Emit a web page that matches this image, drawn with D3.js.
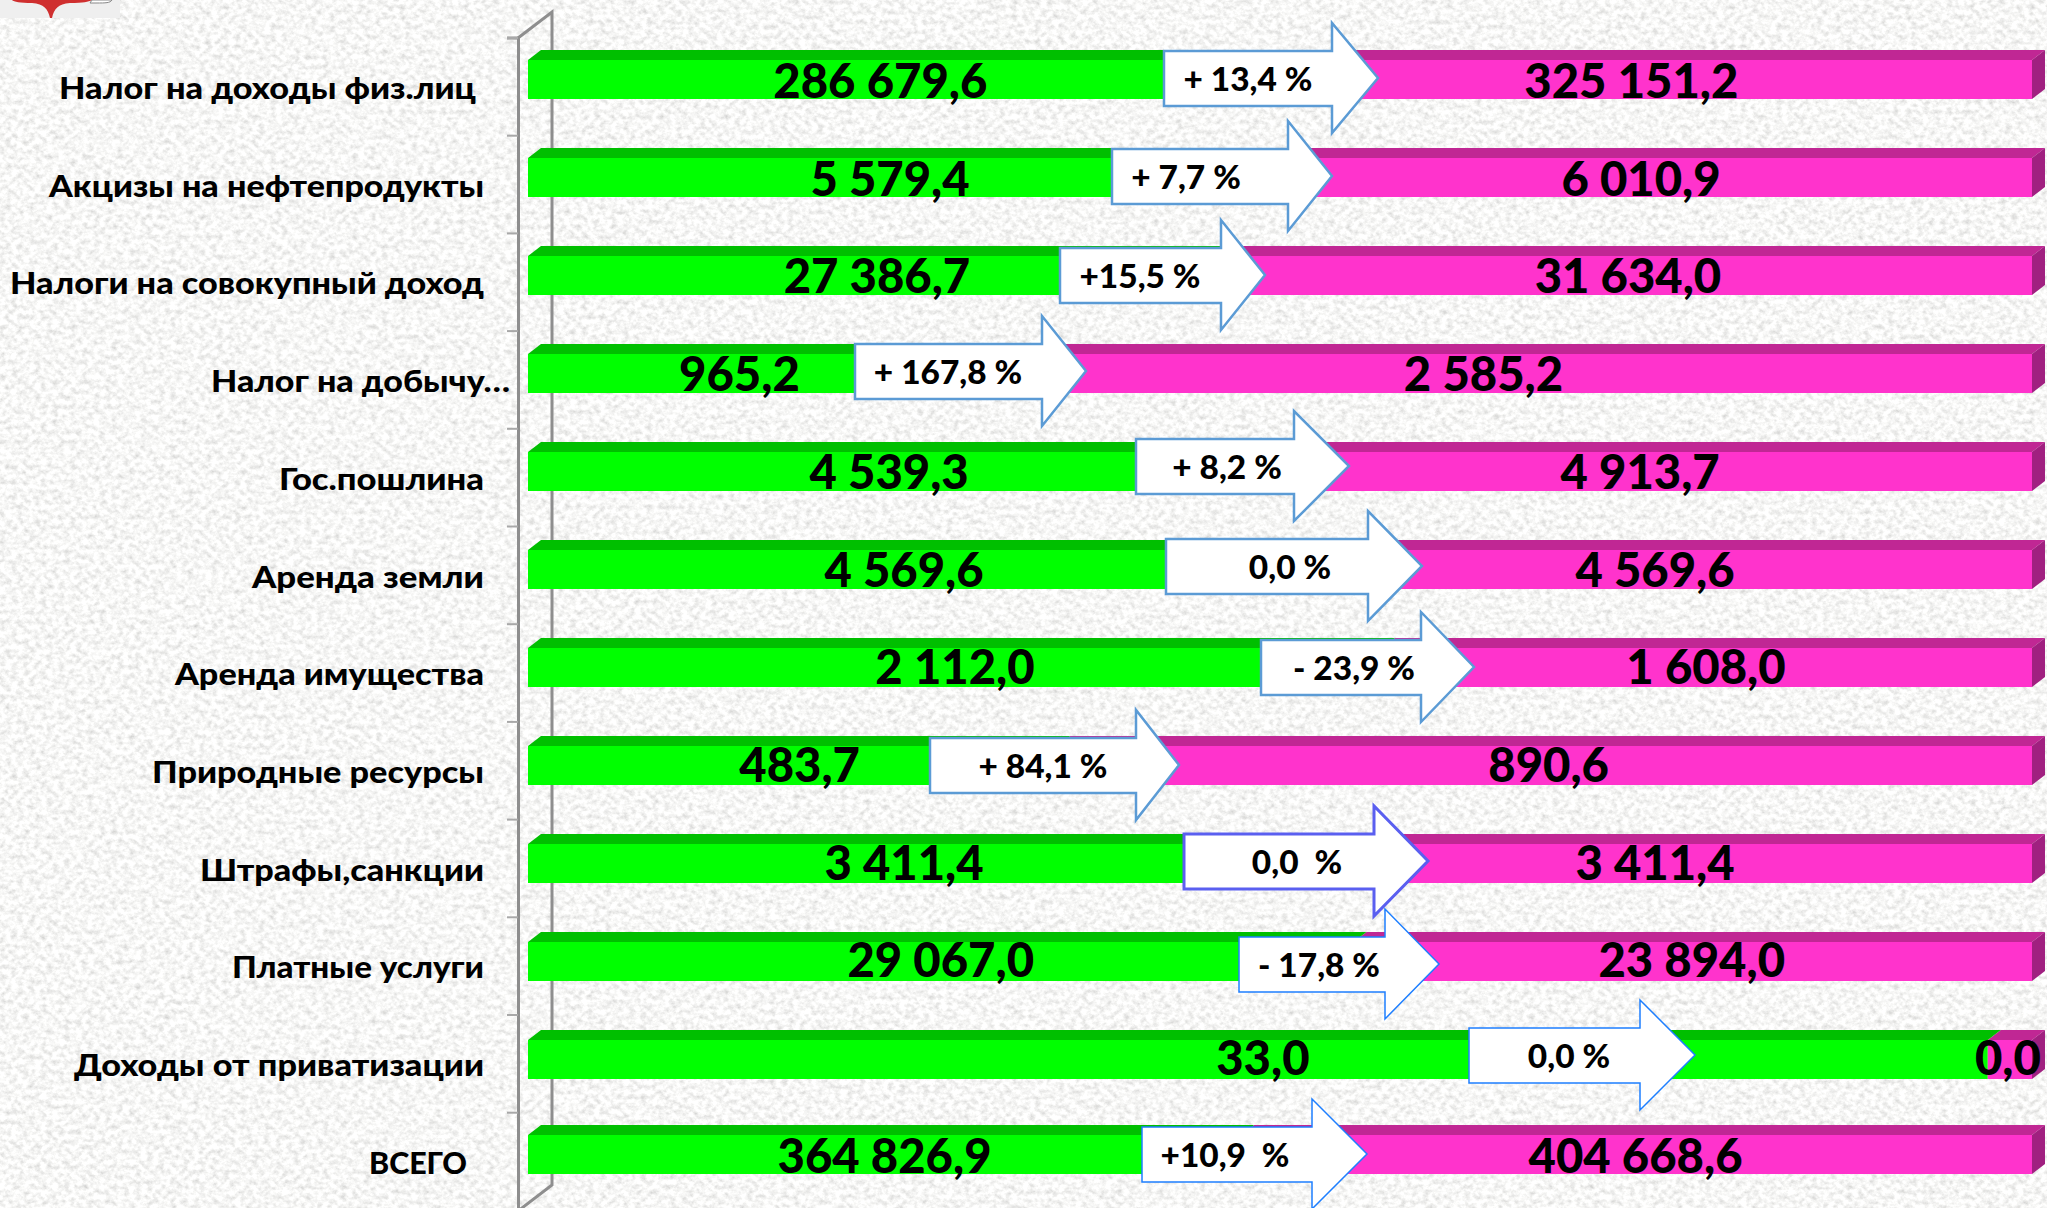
<!DOCTYPE html>
<html><head><meta charset="utf-8">
<script src="https://cdn.jsdelivr.net/npm/d3@7"></script>
<style>html,body{margin:0;padding:0;background:#efefed;overflow:hidden}svg{display:block}text{white-space:pre;font-family:Lato,"Open Sans",sans-serif;font-weight:900;fill:#000}</style>
</head><body><svg id="c" width="2047" height="1208"></svg>
<script>
const categories=["Налог на доходы физ.лиц","Акцизы на нефтепродукты","Налоги на совокупный доход","Налог на добычу…","Гос.пошлина","Аренда земли","Аренда имущества","Природные ресурсы","Штрафы,санкции","Платные услуги","Доходы от приватизации","ВСЕГО"];
const valuesA=[286679.6,5579.4,27386.7,965.2,4539.3,4569.6,2112.0,483.7,3411.4,29067.0,33.0,364826.9];
const valuesB=[325151.2,6010.9,31634.0,2585.2,4913.7,4569.6,1608.0,890.6,3411.4,23894.0,1.0,404668.6];
const labelsA=["286 679,6","5 579,4","27 386,7","965,2","4 539,3","4 569,6","2 112,0","483,7","3 411,4","29 067,0","33,0","364 826,9"];
const labelsB=["325 151,2","6 010,9","31 634,0","2 585,2","4 913,7","4 569,6","1 608,0","890,6","3 411,4","23 894,0","0,0","404 668,6"];
const changes=["+ 13,4 %","+ 7,7 %","+15,5 %","+ 167,8 %","+ 8,2 %","0,0 %","- 23,9 %","+ 84,1 %","0,0  %","- 17,8 %","0,0 %","+10,9  %"];

// layout constants (annotation geometry, not data)
const arrowLeft=[1164,1112,1060,855,1136,1166,1261,930,1184,1239,1469,1142];
const arrowNeck=[1332,1288,1221,1042,1294,1368,1421,1136,1374,1385,1640,1312];
const arrowTip=[1378,1332,1265,1086,1349,1422,1474,1179,1428,1439,1695,1367];
const arrowMid=[78,176,275,371,466,566,667,765,861,964,1055,1154];
const changeX=[1248,1186,1140,948,1227,1290,1354,1043,1297,1319,1569,1225];
const arrowStyle=[0,0,0,0,0,0,0,0,1,2,2,2];
const catRight=[476,484,484,510,484,484,484,484,484,484,484,467];
const catWidth=[417,435,474,299,205,232,309,332,284,252,410,98];
const nudgeA=[0,0,0,7,0,0,0,7,0,0,5,0];
const nudgeB=[-1,-1,-1,-1,-1,-1,-1,4,-1,-1,-2,-1];
const rowNudge=[0,0,0,0,0,0,0,0,0,0,0,-3];

const svg=d3.select("#c");
const defs=svg.append("defs");
const f=defs.append("filter").attr("id","paper").attr("x",0).attr("y",0).attr("width","100%").attr("height","100%");
f.append("feTurbulence").attr("type","fractalNoise").attr("baseFrequency","0.17 0.2").attr("numOctaves",4).attr("seed",7);
f.append("feColorMatrix").attr("type","matrix").attr("values","0.62 0 0 0 0.62  0.62 0 0 0 0.62  0.62 0 0 0 0.61  0 0 0 0 1");
svg.append("rect").attr("width",2047).attr("height",1208).attr("filter","url(#paper)");

// clipped logo + title remnants at top
svg.append("rect").attr("width",120).attr("height",18).attr("fill","#efefef");
svg.append("path").attr("d","M12 0H92C88 2 84 3 70 3C58 4 54 9 52 18H50C48 9 44 4 32 3C20 3 14 2 12 0Z").attr("fill","#cf2f2f");
svg.append("path").attr("d","M92 0H112C110 3 106 3 96 3H90Z").attr("fill","#fff").attr("stroke","#888").attr("stroke-width",1);
[1088,1661].forEach(px=>svg.append("text").attr("x",px).attr("y",-7).attr("text-anchor","middle").attr("font-size",44).text("д"));

const depthX=13,depthY=10,barH=39,barOff=22,axisDX=34,axisDY=26;
const x=d3.scaleLinear().domain([0,1]).range([528,2032]);
const y=d3.scaleBand().domain(categories).range([38,38+98*12]);
const yTick=d3.scaleLinear().domain([0,12]).range([37.5,37.5+97.7*12]);

// 3-D axis wall
const axisCol="#8e8e8e";
const wall=svg.append("g").attr("fill","none").attr("stroke",axisCol).attr("stroke-width",3);
wall.append("path").attr("d",`M518 38L${518+axisDX} ${38-axisDY}V${1185}L518 ${1185+axisDY}`);
const ax=svg.append("g").attr("transform","translate(518,0)").call(d3.axisLeft(yTick).tickValues(d3.range(0,13)).tickSize(11).tickFormat(""));
ax.select(".domain").attr("stroke",axisCol).attr("stroke-width",3);
ax.selectAll(".tick line").attr("stroke","#a8a8a8").attr("stroke-width",2);

const rows=categories.map((c,i)=>({c,i,a:valuesA[i],b:valuesB[i],share:valuesA[i]/(valuesA[i]+valuesB[i])}));
const g=svg.append("g").selectAll("g").data(rows).join("g");
const yy=d=>y(d.c)+barOff+rowNudge[d.i];
const topFace=(x0,x1,t)=>`M${x0} ${t}L${x0+depthX} ${t-depthY}H${x1+depthX}L${x1} ${t}Z`;
g.append("path").attr("fill","#c02794").attr("d",d=>topFace(x(d.share),x(1),yy(d)));
g.append("path").attr("fill","#00bf00").attr("d",d=>topFace(x(0),x(d.share),yy(d)));
g.append("rect").attr("fill","#00ff00").attr("x",x(0)).attr("y",yy).attr("height",barH).attr("width",d=>x(d.share)-x(0));
g.append("rect").attr("fill","#ff33cc").attr("x",d=>x(d.share)).attr("y",yy).attr("height",barH).attr("width",d=>x(1)-x(d.share));
g.append("path").attr("fill","#a02080").attr("d",d=>{const t=yy(d);return `M${x(1)} ${t}L${x(1)+depthX} ${t-depthY}V${t+barH-depthY}L${x(1)} ${t+barH}Z`;});

function fit(sel,refWidth){
  const k=refWidth/sel.nodes()[0].getComputedTextLength();
  sel.each(function(){d3.select(this).attr("textLength",this.getComputedTextLength()*k).attr("lengthAdjust","spacingAndGlyphs");});
}
// category labels
g.append("text").attr("x",d=>catRight[d.i]).attr("y",d=>yTick(d.i)+61.5).attr("text-anchor","end").attr("font-size",31).attr("textLength",d=>catWidth[d.i]).attr("lengthAdjust","spacingAndGlyphs").text(d=>d.c);
// value labels
const vA=g.append("text").attr("x",d=>(x(0)+x(d.share))/2+nudgeA[d.i]).attr("y",d=>yTick(d.i)+60.5).attr("text-anchor","middle").attr("font-size",48).text(d=>labelsA[d.i]);
const vB=g.append("text").attr("x",d=>(x(d.share)+x(1))/2+nudgeB[d.i]).attr("y",d=>yTick(d.i)+60.5).attr("text-anchor","middle").attr("font-size",48).text(d=>labelsB[d.i]);
fit(vA,214);fit(vB,214);

// arrows on top
const styles=[{s:"#5b9bd5",w:2.5},{s:"#5a5ff0",w:3},{s:"#1e7fff",w:1.5}];
const ag=svg.append("g").selectAll("g").data(rows).join("g");
ag.append("path").attr("fill","#fff").attr("stroke",d=>styles[arrowStyle[d.i]].s).attr("stroke-width",d=>styles[arrowStyle[d.i]].w)
 .attr("stroke-linejoin","miter")
 .attr("d",d=>{const i=d.i,m=arrowMid[i],L=arrowLeft[i],N=arrowNeck[i],T=arrowTip[i];return `M${L} ${m-27}H${N}V${m-55}L${T} ${m}L${N} ${m+55}V${m+28}H${L}Z`;});
fit(ag.append("text").attr("x",d=>changeX[d.i]).attr("y",d=>arrowMid[d.i]+13).attr("text-anchor","middle").attr("font-size",33).text(d=>changes[d.i]),129);
</script></body></html>
